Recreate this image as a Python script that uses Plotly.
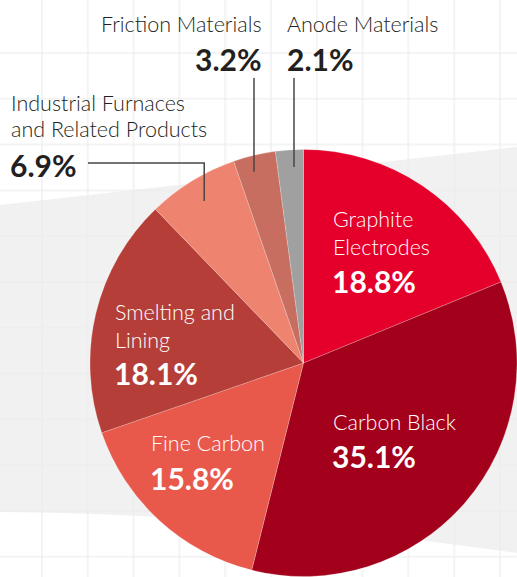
import math
import plotly.graph_objects as go

W, H = 517, 577

categories = ["Graphite Electrodes", "Carbon Black", "Fine Carbon", "Smelting and Lining",
              "Industrial Furnaces and Related Products", "Friction Materials", "Anode Materials"]
values = [18.8, 35.1, 15.8, 18.1, 6.9, 3.2, 2.1]
colors = ["#e4002b", "#a3001b", "#e8594c", "#b53f38", "#ee8470", "#c86e60", "#a0a0a0"]

inside_names = {
    "Graphite Electrodes": ["Graphite", "Electrodes"],
    "Carbon Black": ["Carbon Black"],
    "Fine Carbon": ["Fine Carbon"],
    "Smelting and Lining": ["Smelting and", "Lining"],
}

def px(x):
    return x / W

def py(y):
    return 1 - y / H

fig = go.Figure()

dx0, dx1 = 90, 517
dy_top, dy_bot = 149, 577
fig.add_trace(go.Pie(
    labels=categories, values=values, sort=False, direction="clockwise", rotation=0,
    marker=dict(colors=colors, line=dict(color="rgba(255,255,255,0.35)", width=0.6)),
    textinfo="none", hoverinfo="label+percent", showlegend=False,
    domain=dict(x=[px(dx0), px(dx1)], y=[py(dy_bot), py(dy_top)]),
))

cx = (dx0 + dx1) / 2
cy = (dy_top + dy_bot) / 2
R = min(dx1 - dx0, dy_bot - dy_top) / 2

shapes = []
shapes.append(dict(type="path", xref="paper", yref="paper", layer="below",
                   path=f"M {px(0)},{py(205)} L {px(517)},{py(147)} L {px(517)},{py(553)} "
                        f"C {px(350)},{py(530)} {px(200)},{py(514)} {px(0)},{py(512)} Z",
                   fillcolor="#f1f1f1", line=dict(width=0)))
gx = 42
while gx < W:
    shapes.append(dict(type="line", xref="paper", yref="paper", layer="below",
                       x0=px(gx), x1=px(gx), y0=0, y1=1,
                       line=dict(color="rgba(236,236,236,0.6)", width=2)))
    gx += 45.8
gy = 53
while gy < H:
    shapes.append(dict(type="line", xref="paper", yref="paper", layer="below",
                       x0=0, x1=1, y0=py(gy), y1=py(gy),
                       line=dict(color="rgba(236,236,236,0.6)", width=2)))
    gy += 45.8

cum = 0
mids = {}
tot = sum(values)
for c, v in zip(categories, values):
    mids[c] = (cum + v / 2) / tot * 360
    cum += v

def pt(angle_deg, frac):
    a = math.radians(angle_deg)
    return cx + math.sin(a) * R * frac, cy - math.cos(a) * R * frac

lc = dict(color="#4a4546", width=1.5)
for c, xl in [("Friction Materials", 254), ("Anode Materials", 294)]:
    x, y = pt(mids[c], 0.92)
    shapes.append(dict(type="line", xref="paper", yref="paper",
                       x0=px(xl), x1=px(xl), y0=py(y), y1=py(78), line=lc))
x, y = pt(mids["Industrial Furnaces and Related Products"], 0.89)
shapes.append(dict(type="path", xref="paper", yref="paper",
                   path=f"M {px(x)},{py(y)} L {px(x)},{py(163)} L {px(88)},{py(163)}",
                   line=lc))

fig.update_layout(shapes=shapes)

FONT = "Lato"
name_size = 21.5
pct_size = 30
dark = "#231f20"

def ann(text, x, y, xanchor="left", color="white", size=name_size, bold=False):
    fig.add_annotation(text=text, x=px(x), y=py(y), xref="paper", yref="paper",
                       xanchor=xanchor, yanchor="middle", showarrow=False,
                       font=dict(family=FONT, size=size, color=color,
                                 weight=700 if bold else 300))

def pct(v):
    return f"{v:.1f}%"

val = dict(zip(categories, values))

ann(inside_names["Graphite Electrodes"][0], 331, 219)
ann(inside_names["Graphite Electrodes"][1], 331, 247)
ann(pct(val["Graphite Electrodes"]), 330, 281, size=pct_size, bold=True)

ann(inside_names["Carbon Black"][0], 331, 422)
ann(pct(val["Carbon Black"]), 330, 456, size=pct_size, bold=True)

ann(inside_names["Fine Carbon"][0], 149, 443)
ann(pct(val["Fine Carbon"]), 148, 478, size=pct_size, bold=True)

ann(inside_names["Smelting and Lining"][0], 113, 312)
ann(inside_names["Smelting and Lining"][1], 113, 340)
ann(pct(val["Smelting and Lining"]), 112, 373, size=pct_size, bold=True)

ann("Friction Materials", 264, 24, xanchor="right", color=dark)
ann(pct(val["Friction Materials"]), 264, 59, xanchor="right", color=dark, size=pct_size, bold=True)
ann("Anode Materials", 285, 24, color=dark)
ann(pct(val["Anode Materials"]), 285, 59, color=dark, size=pct_size, bold=True)
ann("Industrial Furnaces", 9, 103, color=dark)
ann("and Related Products", 9, 129, color=dark)
ann(pct(val["Industrial Furnaces and Related Products"]), 8, 165, color=dark, size=pct_size, bold=True)

fig.update_layout(width=W, height=H, margin=dict(l=0, r=0, t=0, b=0),
                  paper_bgcolor="white", plot_bgcolor="white")

fig.write_html("out.html", config={"displayModeBar": False},
               post_script="document.body.style.margin='0';document.body.style.overflow='hidden';")
